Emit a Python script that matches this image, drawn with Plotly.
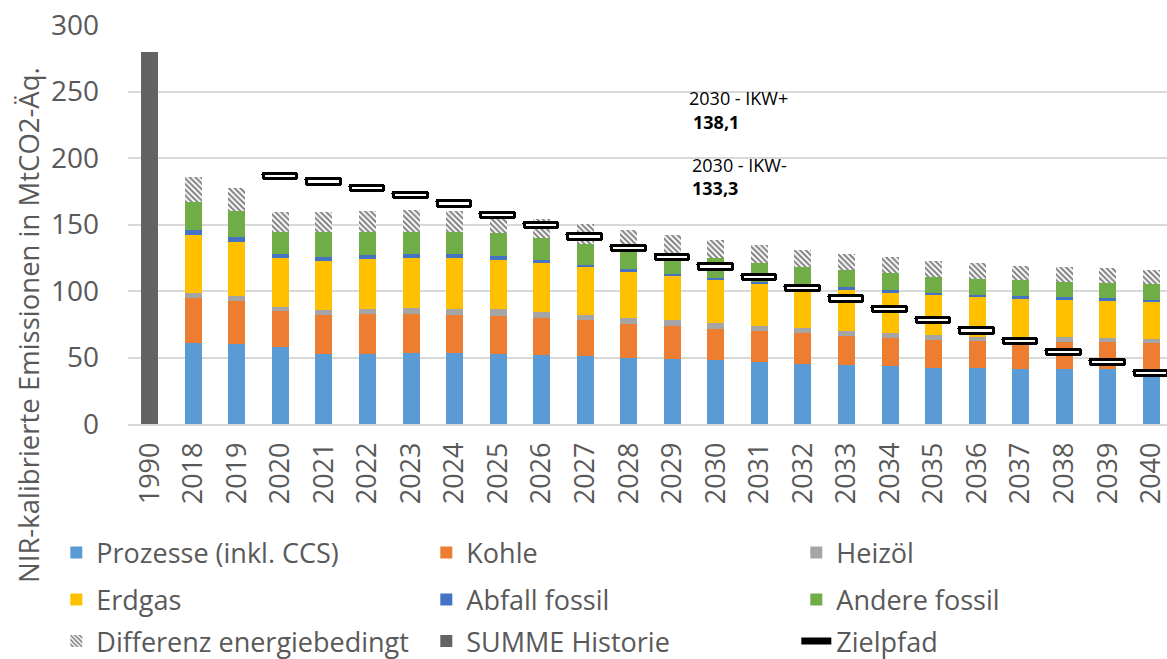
import plotly.graph_objects as go

years = ["1990"] + [str(y) for y in range(2018, 2041)]

prozesse = [None, 60.7, 60.2, 57.6, 52.6, 52.6, 53.1, 53.1, 52.6, 52.2, 50.9, 49.9, 48.9, 47.9,
            46.7, 45.4, 44.6, 43.6, 42.4, 42.4, 41.6, 41.6, 41.6, 41.6]
kohle = [None, 34.3, 32.3, 27.4, 29.4, 30.1, 29.6, 28.9, 28.9, 27.6, 27.1, 25.6, 24.6, 23.3,
         23.0, 23.1, 21.8, 21.3, 21.0, 20.0, 20.3, 19.8, 19.8, 19.1]
heizoel = [None, 3.7, 3.7, 3.2, 3.7, 3.5, 4.5, 4.2, 4.7, 4.5, 3.8, 4.3, 4.5, 4.8,
           3.8, 3.7, 3.8, 3.5, 3.5, 3.3, 3.3, 3.8, 3.3, 3.2]
erdgas = [None, 43.3, 40.9, 36.8, 37.1, 37.9, 37.8, 38.8, 37.1, 36.8, 36.3, 35.1, 33.6, 32.6,
          32.1, 30.4, 30.6, 30.3, 29.8, 29.8, 29.0, 28.3, 28.0, 27.8]
abfall = [None, 3.9, 3.8, 3.1, 2.8, 2.7, 2.6, 2.6, 3.0, 2.5, 1.8, 1.5, 1.5, 1.5,
          1.2, 1.0, 2.0, 1.8, 1.8, 1.7, 1.8, 1.7, 1.8, 1.8]
andere = [None, 21.3, 19.3, 16.5, 18.5, 17.8, 17.0, 17.0, 17.5, 16.4, 15.8, 15.5, 13.8, 14.8,
          14.6, 14.5, 13.0, 12.8, 12.3, 12.1, 12.3, 11.8, 11.3, 11.5]
differenz = [None, 18.3, 17.0, 15.1, 15.6, 15.6, 16.3, 15.6, 12.1, 14.5, 14.5, 13.8, 15.1, 13.3,
             13.0, 13.1, 12.0, 12.0, 11.8, 11.5, 10.7, 10.8, 11.2, 10.8]
summe_historie = [279.5] + [None] * 23
zielpfad = [None, None, None, 186.0, 182.0, 177.0, 172.0, 165.5, 157.0, 149.0, 140.5, 132.0,
            125.0, 118.0, 110.0, 101.8, 94.0, 86.0, 78.0, 70.0, 62.0, 54.0, 46.0, 38.0]

y_title = "NIR-kalibrierte Emissionen in MtCO2-Äq."
ikw_plus_label = "2030 - IKW+"
ikw_plus_value = "138,1"
ikw_minus_label = "2030 - IKW-"
ikw_minus_value = "133,3"

FONT = "Open Sans"
GREY_TXT = "#595959"
BAR_W = 0.39

fig = go.Figure()

stack_series = [
    ("Prozesse (inkl. CCS)", prozesse, "#5B9BD5", "legend"),
    ("Kohle", kohle, "#ED7D31", "legend"),
    ("Heizöl", heizoel, "#A5A5A5", "legend"),
    ("Erdgas", erdgas, "#FFC000", "legend2"),
    ("Abfall fossil", abfall, "#4472C4", "legend2"),
    ("Andere fossil", andere, "#70AD47", "legend2"),
]
for name, vals, col, lg in stack_series:
    fig.add_trace(go.Bar(x=years, y=vals, name=name, width=BAR_W, legend=lg,
                         marker=dict(color=col, line=dict(width=0))))

fig.add_trace(go.Bar(x=years, y=differenz, name="Differenz energiebedingt", width=BAR_W,
                     legend="legend3",
                     marker=dict(color="white", line=dict(width=0),
                                 pattern=dict(shape="\\", fgcolor="black", bgcolor="white",
                                              size=4, solidity=0.5))))
fig.add_trace(go.Bar(x=years, y=summe_historie, name="SUMME Historie", width=BAR_W,
                     legend="legend3",
                     marker=dict(color="#636363", line=dict(width=0))))

# Zielpfad markers: thin outlined rectangles centred on the target value
thick = 4.0
z_base = [None if v is None else v - thick / 2 for v in zielpfad]
z_h = [None if v is None else thick for v in zielpfad]
fig.add_trace(go.Bar(x=years, y=z_h, base=z_base, xaxis="x2", width=0.77,
                     name="Zielpfad", showlegend=False,
                     marker=dict(color="white", line=dict(color="black", width=3.5),
                                 cornerradius=2)))
fig.add_trace(go.Scatter(x=[None], y=[None], mode="lines", name="Zielpfad", legend="legend3",
                         line=dict(color="black", width=7)))

xr = [-0.5, 23.36]
leg_common = dict(orientation="h", x=-0.069, xanchor="left", yanchor="middle",
                  entrywidth=325, entrywidthmode="pixels", traceorder="normal",
                  font=dict(size=27, color=GREY_TXT), itemwidth=30,
                  bgcolor="rgba(0,0,0,0)")
fig.update_layout(
    width=1167, height=659,
    margin=dict(l=128, r=0, t=25, b=235, autoexpand=False),
    barmode="stack",
    plot_bgcolor="white", paper_bgcolor="white",
    font=dict(family=FONT, color=GREY_TXT, size=27),
    xaxis=dict(type="category", range=xr, tickangle=-90, showgrid=False,
               showline=True, linecolor="#D9D9D9", linewidth=1.5, automargin=False,
               tickfont=dict(size=27, color=GREY_TXT), ticks="", ticklabelstandoff=6),
    xaxis2=dict(type="category", range=xr, overlaying="x", matches="x", visible=False),
    yaxis=dict(range=[0, 300], dtick=50, showgrid=True, gridcolor="#D9D9D9", gridwidth=1.5,
               zeroline=False, showline=False, ticks="", automargin=False,
               tickfont=dict(size=28, color=GREY_TXT), ticklabelstandoff=28),
    legend=dict(y=-0.323, **leg_common),
    legend2=dict(y=-0.441, **leg_common),
    legend3=dict(y=-0.545, **leg_common),
    bargap=0.0,
)

fig.add_annotation(text=y_title, textangle=-90, xref="paper", yref="paper",
                   x=(28 - 128) / 1039, y=(424 - 325) / 399, xanchor="center",
                   yanchor="middle", showarrow=False,
                   font=dict(family=FONT, size=27.5, color=GREY_TXT))

ann_font = dict(family="Open Sans", size=18, color="black")
fig.add_annotation(text=ikw_plus_label, xref="paper", yref="paper", x=0.538, y=0.817,
                   xanchor="left", yanchor="middle", showarrow=False, font=ann_font)
fig.add_annotation(text="<b>" + ikw_plus_value + "</b>", xref="paper", yref="paper",
                   x=0.542, y=0.758, xanchor="left", yanchor="middle", showarrow=False,
                   font=ann_font)
fig.add_annotation(text=ikw_minus_label, xref="paper", yref="paper", x=0.541, y=0.649,
                   xanchor="left", yanchor="middle", showarrow=False, font=ann_font)
fig.add_annotation(text="<b>" + ikw_minus_value + "</b>", xref="paper", yref="paper",
                   x=0.541, y=0.591, xanchor="left", yanchor="middle", showarrow=False,
                   font=ann_font)

fig.write_html("out.html", config={"displayModeBar": False},
               post_script="document.body.style.margin='0';document.body.style.overflow='hidden';")
